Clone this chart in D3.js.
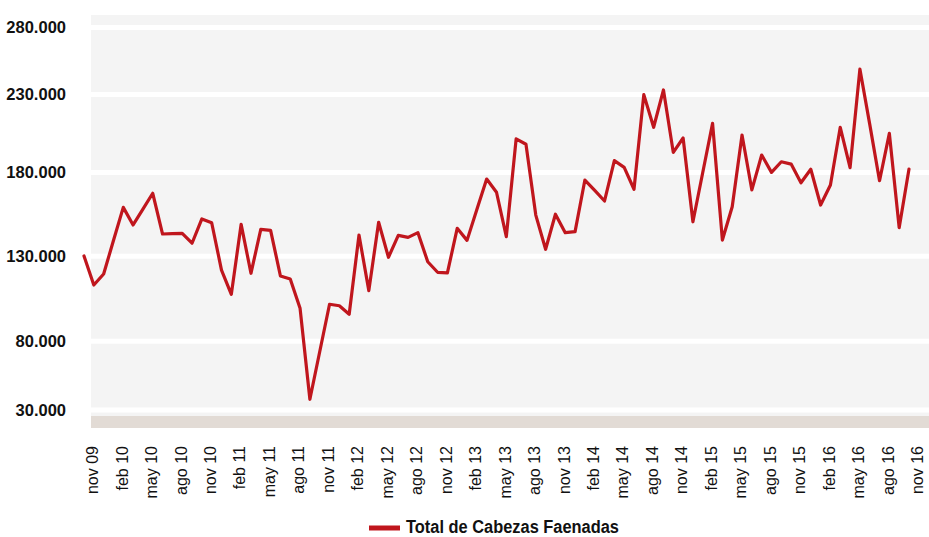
<!DOCTYPE html>
<html lang="es">
<head>
<meta charset="UTF-8">
<title>Total de Cabezas Faenadas</title>
<script src="https://cdn.jsdelivr.net/npm/d3@7"></script>
<style>
  body { margin: 0; background: #fff; }
  svg text { font-family: "Liberation Sans", Arial, Helvetica, sans-serif; fill: #111; }
  .y-axis text { font-weight: bold; font-size: 16.5px; }
  .x-axis text { font-size: 16px; }
  .legend text { font-weight: bold; font-size: 18px; font-family: "Liberation Sans Narrow", "Liberation Sans", Arial, sans-serif; }
</style>
</head>
<body>
<div id="chart"></div>
<script>
  // etiquetas del eje x, una cada 3 meses
  var tickLabels = ["nov 09", "feb 10", "may 10", "ago 10", "nov 10", "feb 11", "may 11", "ago 11",
    "nov 11", "feb 12", "may 12", "ago 12", "nov 12", "feb 13", "may 13", "ago 13", "nov 13",
    "feb 14", "may 14", "ago 14", "nov 14", "feb 15", "may 15", "ago 15", "nov 15",
    "feb 16", "may 16", "ago 16", "nov 16"];

  var yTicks = [30000, 80000, 130000, 180000, 230000, 280000];

  // total mensual de cabezas faenadas, nov 09 .. nov 16
  var cabezas = [
    130200, 113100, 119600, 139400, 159200, 148700, 158100, 167600, 143300, 143500,
    143700, 137800, 152300, 150000, 121900, 107600, 149100, 120000, 146100, 145500,
    118400, 116600, 99400, 37800, 72400, 101800, 100900, 95900, 142700, 109800,
    150300, 129400, 142500, 141300, 144100, 126800, 120600, 120200, 146700, 139500,
    157900, 176100, 168200, 141700, 201500, 198100, 154600, 134200, 155100, 144100,
    144700, 175500, 169300, 163000, 187600, 183300, 170000, 229900, 209000, 233400,
    192900, 202100, 150600, 180000, 211500, 139700, 159600, 204000, 169600, 191200,
    180100, 186900, 185400, 173900, 182100, 160600, 172500, 209000, 183100, 249000,
    211000, 175100, 205100, 147100, 182200
  ];

  var width = 929, height = 537;
  var plotLeft = 91, plotRight = 929, plotTop = 15, plotBottom = 416;
  var red = "#c0161d";

  var svg = d3.select("#chart").append("svg")
      .attr("width", width)
      .attr("height", height);

  var x = d3.scaleLinear()
      .domain([0, cabezas.length - 1])
      .range([84, 909]);

  // la grilla del original no es equidistante
  var y = d3.scaleLinear()
      .domain(yTicks)
      .range([410, 341.3, 256.3, 172.5, 94.5, 27.5]);

  var es = d3.formatLocale({decimal: ",", thousands: ".", grouping: [3], currency: ["$", ""]});
  var fmt = es.format(",");

  svg.append("rect")
      .attr("x", plotLeft).attr("y", plotTop)
      .attr("width", plotRight - plotLeft).attr("height", plotBottom - plotTop)
      .attr("fill", "#f4f4f4");

  svg.append("rect")
      .attr("x", plotLeft).attr("y", plotBottom)
      .attr("width", plotRight - plotLeft).attr("height", 12)
      .attr("fill", "#e2dbd5");

  svg.append("g").selectAll("line")
      .data(yTicks)
      .enter().append("line")
      .attr("x1", plotLeft).attr("x2", plotRight)
      .attr("y1", d => y(d)).attr("y2", d => y(d))
      .attr("stroke", "#fff")
      .attr("stroke-width", 5);

  var yAxis = svg.append("g")
      .attr("class", "y-axis")
      .attr("transform", "translate(69,0)")
      .call(d3.axisLeft(y).tickValues(yTicks).tickSize(0).tickPadding(3).tickFormat(fmt));
  yAxis.select(".domain").remove();

  var xAxis = svg.append("g")
      .attr("class", "x-axis")
      .attr("transform", "translate(0,446)")
      .call(d3.axisBottom(x)
          .tickValues(d3.range(0, cabezas.length, 3))
          .tickSize(0)
          .tickFormat(d => tickLabels[d / 3]));
  xAxis.select(".domain").remove();
  xAxis.selectAll("text")
      .attr("x", 0).attr("y", 0).attr("dy", "0.35em")
      .attr("text-anchor", "end")
      .attr("transform", "translate(8,0) rotate(-90)");

  var line = d3.line()
      .x((d, i) => x(i))
      .y(d => y(d));

  svg.append("path")
      .datum(cabezas)
      .attr("d", line)
      .attr("fill", "none")
      .attr("stroke", red)
      .attr("stroke-width", 3.2)
      .attr("stroke-linejoin", "round")
      .attr("stroke-linecap", "round");

  var legend = svg.append("g").attr("class", "legend");
  legend.append("line")
      .attr("x1", 369).attr("x2", 400)
      .attr("y1", 528).attr("y2", 528)
      .attr("stroke", red)
      .attr("stroke-width", 5);
  legend.append("text")
      .attr("x", 406).attr("y", 533)
      .attr("textLength", 213)
      .attr("lengthAdjust", "spacingAndGlyphs")
      .text("Total de Cabezas Faenadas");
</script>
</body>
</html>
